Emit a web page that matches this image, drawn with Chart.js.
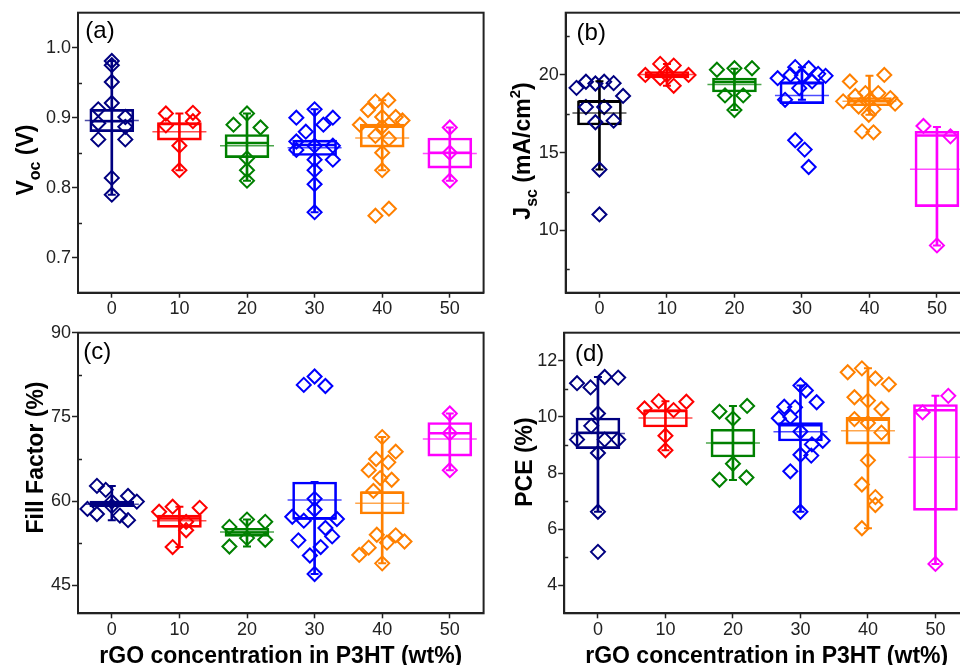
<!DOCTYPE html>
<html>
<head>
<meta charset="utf-8">
<script src="https://cdn.jsdelivr.net/npm/chart.js@4.4.1/dist/chart.umd.min.js"></script>
<style>
  html, body { margin: 0; padding: 0; background: #fff; width: 960px; height: 665px; overflow: hidden; position: relative; }
  canvas { position: absolute; display: block; }
</style>
</head>
<body>
<canvas id="cA" width="490" height="318" style="left:0px;top:0px;"></canvas>
<canvas id="cB" width="490" height="318" style="left:490px;top:0px;"></canvas>
<canvas id="cC" width="490" height="352" style="left:0px;top:318px;"></canvas>
<canvas id="cD" width="490" height="352" style="left:490px;top:318px;"></canvas>
<script>
// ---------- categories ----------
const groups = [0, 10, 20, 30, 40, 50];               // rGO concentration (wt%)
const groupColors = ['#000080', '#ff0000', '#008000', '#0000ff', '#ff8000', '#ff00ff'];
const xTitleText = 'rGO concentration in P3HT (wt%)';

// ---------- (a) Voc (V) ----------
const vocValues = [
  [0.981, 0.975, 0.951, 0.921, 0.912, 0.901, 0.892, 0.887, 0.869, 0.869, 0.814, 0.790],
  [0.906, 0.907, 0.889, 0.895, 0.860, 0.825],
  [0.906, 0.890, 0.886, 0.842, 0.825, 0.810],
  [0.900, 0.912, 0.900, 0.880, 0.890, 0.866, 0.854, 0.860, 0.860, 0.840, 0.840, 0.825, 0.805, 0.765],
  [0.925, 0.923, 0.911, 0.901, 0.896, 0.890, 0.901, 0.887, 0.874, 0.870, 0.850, 0.825, 0.770, 0.760],
  [0.886, 0.850, 0.810]
];
const vocSpread = [
  [0, 0, 0, 0, -2, 2, -2, 2, -2, 2, 0, 0],
  [-2, 2, -2, 2, 0, 0],
  [0, -2, 2, 0, 0, 0],
  [-2.7, 0, 2.7, -1.3, 1.3, -2.7, -2.7, 0, 2.7, 2.7, 0, 0, 0, 0],
  [0.9, -1, -2.1, 2, 3, -3.3, 0, 0, -1, 1, 0, 0, 1, -1],
  [0, 0, 0]
];
const vocLow    = [0.790, 0.825, 0.810, 0.765, 0.825, 0.810];
const vocQ1     = [0.880, 0.868, 0.843, 0.846, 0.858, 0.828];
const vocMedian = [0.895, 0.891, 0.864, 0.861, 0.887, 0.850];
const vocQ3     = [0.912, 0.893, 0.876, 0.868, 0.891, 0.871];
const vocHigh   = [0.981, 0.906, 0.906, 0.912, 0.925, 0.886];
const vocMean   = [0.896, 0.880, 0.860, 0.857, 0.871, 0.849];
const vocTicks  = [0.7, 0.8, 0.9, 1.0];
const vocMinor  = [0.75, 0.85, 0.95];

// ---------- (b) Jsc (mA/cm2) ----------
const jscValues = [
  [19.17, 19.56, 19.45, 19.56, 19.47, 18.65, 17.94, 17.94, 16.96, 17.06, 13.92, 11.03],
  [20.0, 20.71, 20.6, 20.0, 19.3, 19.8, 20.0],
  [20.33, 20.43, 20.43, 18.68, 18.68, 17.74],
  [19.79, 20.5, 20.43, 20.07, 19.94, 20.0, 19.94, 19.58, 18.4, 19.15, 15.8, 15.2, 14.08],
  [19.58, 20.0, 18.3, 18.65, 18.83, 18.83, 18.51, 18.15, 17.97, 17.44, 17.8, 16.37, 16.31, 18.4],
  [16.72, 16.05, 9.04]
];
const jscSpread = [
  [-3.4, -2, -0.6, 0.7, 2.1, 3.5, -2, 0.7, -0.6, 2.1, 0, 0],
  [-3.2, -1, 1, 3.2, 1, -1, 0],
  [-2.6, 0, 2.6, -1.4, 1.3, 0],
  [-3.6, -1, 1, 2.4, 3.5, -1.7, 0, 1.5, -2.5, -0.4, -1, 0.4, 1],
  [-2.9, 2.2, -3.9, -2.1, -0.6, 1.3, 3.1, 3.8, -1.6, -0.1, 0.6, -1.1, 0.6, 0],
  [-2, 2, 0]
];
const jscLow    = [13.92, 19.3, 17.74, 18.4, 17.44, 9.04];
const jscQ1     = [16.78, 19.8, 18.9, 18.15, 18.02, 11.53];
const jscMedian = [18.3, 20.0, 19.55, 19.47, 18.3, 16.1];
const jscQ3     = [18.34, 20.22, 19.8, 19.58, 18.55, 16.38];
const jscHigh   = [19.6, 20.7, 20.4, 20.5, 19.95, 16.65];
const jscMean   = [17.55, 20.03, 19.38, 18.68, 18.3, 13.94];
const jscTicks  = [10, 15, 20];
const jscMinor  = [7.5, 12.5, 17.5, 22.5];

// ---------- (c) Fill Factor (%) ----------
const ffValues = [
  [62.7, 62.0, 60.9, 59.9, 58.6, 57.7, 57.4, 56.6, 59.9, 59.1],
  [58.1, 59.0, 58.8, 56.3, 54.8, 51.8],
  [55.4, 56.7, 56.3, 51.9, 53.4, 53.1],
  [80.7, 82.2, 80.5, 60.4, 58.5, 57.2, 56.8, 56.5, 55.2, 53.7, 53.0, 51.8, 50.3, 47.0],
  [71.4, 68.8, 67.5, 66.9, 65.5, 64.1, 63.8, 61.8, 54.0, 53.9, 52.8, 52.6, 51.7, 50.4, 48.9],
  [75.6, 72.1, 65.5]
];
const ffSpread = [
  [-2.2, -0.9, 2.4, 3.7, -3.6, -2.2, 1.2, 2.4, 0, 0],
  [-3, -1, 3, 1, 1, -1],
  [-2.6, 0, 2.7, -2.6, 0, 2.7],
  [-1.6, 0, 1.6, 0, 0, -3.3, 3.3, -1.6, 1.6, 2.6, -2.4, 0.9, -0.7, 0],
  [0, 2, -0.9, 0.9, -2, -0.3, 1.4, -1.3, -0.8, 2, 3.3, 0.7, -2, -3.4, 0],
  [0, 0, 0]
];
const ffLow    = [56.6, 51.8, 51.9, 47.0, 48.9, 65.5];
const ffQ1     = [59.0, 55.3, 53.7, 56.75, 57.7, 68.0];
const ffMedian = [59.5, 56.9, 54.4, 56.9, 61.5, 72.1];
const ffQ3     = [60.0, 57.5, 55.15, 63.4, 61.7, 74.0];
const ffHigh   = [62.7, 59.0, 56.7, 63.4, 71.4, 75.6];
const ffMean   = [59.45, 56.47, 54.47, 60.2, 59.6, 71.07];
const ffTicks  = [45, 60, 75, 90];
const ffMinor  = [52.5, 67.5, 82.5];

// ---------- (d) PCE (%) ----------
const pceValues = [
  [11.2, 11.05, 11.42, 11.4, 10.12, 9.68, 9.19, 9.19, 9.19, 8.71, 6.62, 5.19],
  [10.3, 10.56, 10.24, 10.54, 9.33, 8.81],
  [10.19, 10.39, 9.94, 8.33, 7.76, 7.84],
  [11.12, 10.94, 10.52, 10.36, 10.34, 9.95, 10.0, 9.48, 9.15, 9.02, 8.62, 8.65, 8.06, 6.62],
  [11.59, 11.73, 11.37, 11.16, 10.7, 10.58, 10.28, 9.92, 9.78, 9.44, 8.45, 7.59, 7.14, 6.86, 6.03],
  [10.75, 10.16, 4.76]
];
const pceSpread = [
  [-3.1, -1.1, 1, 3, 0, -1, -3.1, 1, 3, 0, 0, 0],
  [-3.1, -1, 1.2, 3.1, 0, 0],
  [-2, 2.1, 0, 0, -2, 2],
  [0, 0.8, 2.4, -2.4, -0.8, -3.2, -1.5, 0, 3.3, 1.7, 1.6, 0, -1.5, 0],
  [-3, -0.9, 1.1, 3.1, -2, 0, 2, -2, 0, 2, 0, -0.9, 1.1, 1.1, -0.9],
  [1.9, -1.9, 0]
];
const pceLow    = [6.62, 8.81, 7.75, 6.62, 6.03, 4.76];
const pceQ1     = [8.87, 9.64, 8.57, 9.14, 9.03, 6.67];
const pceMedian = [9.43, 10.22, 9.07, 9.7, 9.9, 10.24];
const pceQ3     = [9.96, 10.25, 9.56, 9.8, 9.98, 10.44];
const pceHigh   = [11.42, 10.56, 10.39, 11.12, 11.73, 10.75];
const pceMean   = [9.41, 9.96, 9.07, 9.47, 9.51, 8.56];
const pceTicks  = [4, 6, 8, 10, 12];
const pceMinor  = [5, 7, 9, 11];

// ---------- rendering ----------
const SANS = "'Liberation Sans', Arial, Helvetica, sans-serif";
Chart.defaults.font.family = SANS;

function rgba(hex, a) {
  const n = parseInt(hex.slice(1), 16);
  return 'rgba(' + (n >> 16) + ',' + ((n >> 8) & 255) + ',' + (n & 255) + ',' + a + ')';
}

function drawRotatedTitle(ctx, pieces, bx, cy) {
  const fonts = { main: 'bold 23px ' + SANS, sub: 'bold 16px ' + SANS, sup: 'bold 15px ' + SANS };
  const shift = { main: 0, sub: 7, sup: -10 };
  let total = 0;
  const widths = pieces.map(p => { ctx.font = fonts[p.k]; const w = ctx.measureText(p.t).width; total += w; return w; });
  ctx.save();
  ctx.translate(bx, cy);
  ctx.rotate(-Math.PI / 2);
  ctx.fillStyle = '#000';
  ctx.textAlign = 'left';
  ctx.textBaseline = 'alphabetic';
  let x = -total / 2;
  pieces.forEach((p, i) => { ctx.font = fonts[p.k]; ctx.fillText(p.t, x, shift[p.k]); x += widths[i]; });
  ctx.restore();
}

function buildPanel(p) {
  const canvas = document.getElementById(p.id);
  const W = canvas.width, H = canvas.height;
  const boxCol = p.boxColors || groupColors;
  const ds = [];
  ds.push({ type: 'bar', label: 'whisker', data: groups.map((g, i) => ({ x: g, y: [p.low[i], p.high[i]] })),
    backgroundColor: boxCol, borderWidth: 0, barThickness: 2, maxBarThickness: 2, barPercentage: 1, categoryPercentage: 1,
    grouped: false, order: 5 });
  ds.push({ type: 'bar', label: 'box', data: groups.map((g, i) => ({ x: g, y: [p.q1[i], p.q3[i]] })),
    backgroundColor: 'rgba(0,0,0,0)', borderColor: boxCol, borderWidth: 2, borderSkipped: false,
    barThickness: 44, maxBarThickness: 44, barPercentage: 1, categoryPercentage: 1, grouped: false, order: 4 });
  groups.forEach((g, i) => {
    ds.push({ type: 'scatter', label: String(g), data: p.values[i].map((v, j) => ({ x: g + p.spread[i][j], y: v })),
      pointStyle: 'rectRot', pointRadius: 7, pointHoverRadius: 7, pointBorderWidth: 2,
      borderColor: groupColors[i], pointBorderColor: groupColors[i],
      backgroundColor: 'rgba(0,0,0,0)', pointBackgroundColor: 'rgba(0,0,0,0)', order: 3 });
  });
  const capCols = groups.flatMap((g, i) => [boxCol[i], boxCol[i]]);
  ds.push({ type: 'scatter', label: 'caps', data: groups.flatMap((g, i) => [{ x: g, y: p.low[i] }, { x: g, y: p.high[i] }]),
    pointStyle: 'line', pointRadius: 4, pointBorderWidth: 2, borderColor: capCols, pointBorderColor: capCols, order: 2 });
  ds.push({ type: 'scatter', label: 'median', data: groups.map((g, i) => ({ x: g, y: p.median[i] })),
    pointStyle: 'line', pointRadius: 21, pointBorderWidth: 2.5, borderColor: boxCol, pointBorderColor: boxCol, order: 1 });
  const meanCols = boxCol.map(c => rgba(c, 0.7));
  ds.push({ type: 'scatter', label: 'mean', data: groups.map((g, i) => ({ x: g, y: p.mean[i] })),
    pointStyle: 'line', pointRadius: 27, pointBorderWidth: 1.5, borderColor: meanCols, pointBorderColor: meanCols, order: 0 });
  ds.push({ type: 'scatter', label: 'meanDot', data: groups.map((g, i) => ({ x: g, y: p.mean[i] })),
    pointStyle: 'rect', pointRadius: 1.5, pointBorderWidth: 0, backgroundColor: boxCol, pointBackgroundColor: boxCol, order: 0 });

  const decor = {
    id: 'decor',
    afterDraw(chart) {
      const ctx = chart.ctx, a = chart.chartArea, ys = chart.scales.y;
      ctx.save();
      ctx.strokeStyle = '#222';
      ctx.lineWidth = 2;
      ctx.strokeRect(a.left, a.top, a.right - a.left, a.bottom - a.top);
      ctx.lineWidth = 1.5;
      p.minor.forEach(v => {
        const y = Math.round(ys.getPixelForValue(v)) + 0.5;
        ctx.beginPath(); ctx.moveTo(a.left, y); ctx.lineTo(a.left + 4, y); ctx.stroke();
      });
      ctx.fillStyle = '#000';
      ctx.font = '24px ' + SANS;
      ctx.textAlign = 'left';
      ctx.textBaseline = 'alphabetic';
      ctx.fillText(p.label, p.labelPos[0], p.labelPos[1]);
      ctx.restore();
      drawRotatedTitle(ctx, p.title, p.titlePos[0], p.titlePos[1]);
    }
  };

  return new Chart(canvas, {
    type: 'scatter',
    data: { datasets: ds },
    options: {
      responsive: false, animation: false, devicePixelRatio: 1,
      layout: { autoPadding: false, padding: { left: 0, top: p.area.top, right: W - p.area.right, bottom: 0 } },
      plugins: { legend: { display: false }, tooltip: { enabled: false } },
      scales: {
        x: {
          type: 'linear', min: -5, max: 55, offset: false,
          afterBuildTicks: s => { s.ticks = groups.map(v => ({ value: v })); },
          afterFit: s => { s.height = H - p.area.bottom; },
          grid: { display: true, drawOnChartArea: false, drawTicks: true, tickLength: 5, tickWidth: 1.5, tickColor: '#222', offset: false },
          border: { display: true, color: '#222', width: 2 },
          ticks: { color: '#222', font: { size: 18 }, padding: 1, maxRotation: 0, autoSkip: false },
          title: { display: p.xTitle, text: xTitleText, color: '#000', font: { size: 23, weight: 'bold', lineHeight: 1.2 }, padding: { top: 0, bottom: 0 } }
        },
        y: {
          type: 'linear', min: p.yMin, max: p.yMax, beginAtZero: false,
          afterBuildTicks: s => { s.ticks = p.ticks.map(v => ({ value: v })); },
          afterFit: s => { s.width = p.area.left; },
          grid: { display: true, drawOnChartArea: false, drawTicks: true, tickLength: 6, tickWidth: 1.5, tickColor: '#222' },
          border: { display: true, color: '#222', width: 2 },
          ticks: { color: '#222', font: { size: 18 }, padding: 1, callback: p.fmt }
        }
      }
    },
    plugins: [decor]
  });
}

buildPanel({ id: 'cA', values: vocValues, spread: vocSpread, low: vocLow, q1: vocQ1, median: vocMedian, q3: vocQ3, high: vocHigh, mean: vocMean,
  yMin: 0.65, yMax: 1.05, ticks: vocTicks, minor: vocMinor, fmt: v => Number(v).toFixed(1),
  area: { left: 78, top: 12.7, right: 483.6, bottom: 292.7 },
  label: '(a)', labelPos: [85.3, 37.5],
  title: [{ t: 'V', k: 'main' }, { t: 'oc', k: 'sub' }, { t: ' (V)', k: 'main' }], titlePos: [33, 160], xTitle: false });

buildPanel({ id: 'cB', values: jscValues, spread: jscSpread, low: jscLow, q1: jscQ1, median: jscMedian, q3: jscQ3, high: jscHigh, mean: jscMean,
  boxColors: ['#000000', '#ff0000', '#008000', '#0000ff', '#ff8000', '#ff00ff'],
  yMin: 6, yMax: 24, ticks: jscTicks, minor: jscMinor, fmt: v => String(v),
  area: { left: 75.7, top: 12.7, right: 480.7, bottom: 292.7 },
  label: '(b)', labelPos: [86.6, 40.2],
  title: [{ t: 'J', k: 'main' }, { t: 'sc', k: 'sub' }, { t: ' (mA/cm', k: 'main' }, { t: '2', k: 'sup' }, { t: ')', k: 'main' }],
  titlePos: [40, 151], xTitle: false });

buildPanel({ id: 'cC', values: ffValues, spread: ffSpread, low: ffLow, q1: ffQ1, median: ffMedian, q3: ffQ3, high: ffHigh, mean: ffMean,
  yMin: 40, yMax: 90, ticks: ffTicks, minor: ffMinor, fmt: v => String(v),
  area: { left: 78, top: 14.7, right: 483.6, bottom: 295.3 },
  label: '(c)', labelPos: [83.3, 41.2],
  title: [{ t: 'Fill Factor (%)', k: 'main' }], titlePos: [43, 139.5], xTitle: true });

buildPanel({ id: 'cD', values: pceValues, spread: pceSpread, low: pceLow, q1: pceQ1, median: pceMedian, q3: pceQ3, high: pceHigh, mean: pceMean,
  yMin: 3, yMax: 13, ticks: pceTicks, minor: pceMinor, fmt: v => String(v),
  area: { left: 74.2, top: 14.7, right: 479.2, bottom: 295.3 },
  label: '(d)', labelPos: [85, 42.8],
  title: [{ t: 'PCE (%)', k: 'main' }], titlePos: [42, 144], xTitle: true });
</script>
</body>
</html>
